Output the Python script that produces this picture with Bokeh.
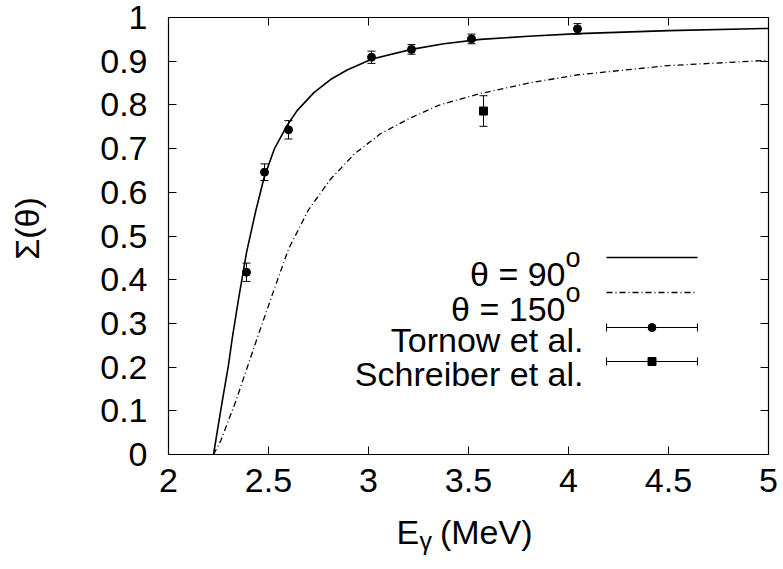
from bokeh.plotting import figure
from bokeh.models import (Label, LinearAxis, ColumnDataSource, Whisker, TeeHead,
                          FixedTicker, Range1d)
from bokeh.embed import file_html
from bokeh.resources import INLINE

# ---------------- data ----------------
# theory curve theta = 90 deg
th90_x = [2.225, 2.25, 2.27, 2.30, 2.32, 2.35, 2.39, 2.435, 2.477, 2.53, 2.593,
          2.643, 2.727, 2.81, 2.893, 3.018, 3.215, 3.377, 3.56, 3.8, 4.05, 4.5, 5.0]
th90_y = [0.0, 0.07, 0.125, 0.205, 0.27, 0.355, 0.462, 0.555, 0.632, 0.70, 0.753,
          0.787, 0.828, 0.858, 0.880, 0.905, 0.927, 0.940, 0.950, 0.957, 0.963,
          0.970, 0.975]
# theory curve theta = 150 deg
th150_x = [2.225, 2.26, 2.335, 2.45, 2.53, 2.6, 2.7, 2.81, 2.93, 3.06, 3.2, 3.35,
           3.55, 3.8, 4.05, 4.5, 5.0]
th150_y = [0.0, 0.03, 0.12, 0.275, 0.38, 0.47, 0.56, 0.63, 0.688, 0.734, 0.768,
           0.799, 0.825, 0.85, 0.869, 0.89, 0.902]
# Tornow et al.
tor_x = [2.39, 2.48, 2.60, 3.015, 3.215, 3.515, 4.045]
tor_y = [0.417, 0.646, 0.743, 0.909, 0.927, 0.951, 0.974]
tor_e = [0.021, 0.019, 0.021, 0.014, 0.011, 0.011, 0.012]
# Schreiber et al.
sch_x = [3.575]
sch_y = [0.786]
sch_e = [0.035]

x_ticks = [2, 2.5, 3, 3.5, 4, 4.5, 5]
y_ticks = [0, 0.1, 0.2, 0.3, 0.4, 0.5, 0.6, 0.7, 0.8, 0.9, 1]
legend_labels = ["\u03b8 = 90", "\u03b8 = 150", "Tornow et al.", "Schreiber et al."]
x_title = ["E", "\u03b3", "(MeV)"]
y_title = "\u03a3(\u03b8)"

FONT = "Liberation Sans"
FS = "34px"

# ---------------- layout helpers (page px -> data) ----------------
W, H = 783, 569
L, R, T, B = 168, 768, 17, 454
XMIN, XMAX = x_ticks[0], x_ticks[-1]
YMIN, YMAX = y_ticks[0], y_ticks[-1]
def dx(px):
    return XMIN + (XMAX - XMIN) * (px - L) / (R - L)
def dy(py):
    return YMIN + (YMAX - YMIN) * (B - py) / (B - T)

# the frame covers the whole canvas; the plot box is made of four axes
p = figure(width=W, height=H, min_border=0, title=None,
           x_range=Range1d(dx(0), dx(W)), y_range=Range1d(dy(H), dy(0)),
           output_backend="svg", toolbar_location=None,
           background_fill_color="white", border_fill_color="white")
p.grid.visible = False
p.outline_line_color = None

def style_axis(ax, ticks, loc, bounds, labels=True, standoff=17):
    ax.ticker = FixedTicker(ticks=ticks)
    ax.fixed_location = loc
    ax.bounds = bounds
    ax.axis_line_color = "black"
    ax.axis_line_width = 1.2
    ax.major_tick_line_color = "black"
    ax.major_tick_in = 8
    ax.major_tick_out = 0
    ax.minor_tick_line_color = None
    ax.major_label_text_font = FONT
    ax.major_label_text_font_size = FS
    ax.major_label_text_color = "black"
    ax.major_label_standoff = standoff
    if labels:
        ax.major_label_overrides = {t: ("%g" % t) for t in ticks}
    else:
        ax.major_label_overrides = {t: "" for t in ticks}
        ax.major_label_standoff = 0

style_axis(p.xaxis[0], x_ticks, YMIN, (XMIN, XMAX), standoff=14)
style_axis(p.yaxis[0], y_ticks, XMIN, (YMIN, YMAX), standoff=21)
top = LinearAxis()
right = LinearAxis()
style_axis(top, x_ticks, YMAX, (XMIN, XMAX), labels=False)
style_axis(right, y_ticks, XMAX, (YMIN, YMAX), labels=False)
p.add_layout(top, "above")
p.add_layout(right, "right")

# ---------------- curves ----------------
p.line(th90_x, th90_y, line_color="black", line_width=1.6)
p.line(th150_x, th150_y, line_color="black", line_width=1.3, line_dash="6 3 1 3")

# ---------------- data points ----------------
tor = ColumnDataSource(dict(x=tor_x, y=tor_y,
                            lo=[a - b for a, b in zip(tor_y, tor_e)],
                            hi=[a + b for a, b in zip(tor_y, tor_e)]))
sch = ColumnDataSource(dict(x=sch_x, y=sch_y,
                            lo=[a - b for a, b in zip(sch_y, sch_e)],
                            hi=[a + b for a, b in zip(sch_y, sch_e)]))
for src in (tor, sch):
    w = Whisker(source=src, base="x", lower="lo", upper="hi", dimension="height",
                line_color="black", line_width=1,
                lower_head=TeeHead(size=8, line_color="black", line_width=1),
                upper_head=TeeHead(size=8, line_color="black", line_width=1))
    p.add_layout(w)
p.scatter("x", "y", source=tor, marker="circle", size=8, fill_color="black",
          line_color="black")
p.scatter("x", "y", source=sch, marker="square", size=8, fill_color="black",
          line_color="black")

# ---------------- legend (custom: text right, sample left) ----------------
text_right = 583
sup_left = 565
rows = [257, 292, 327, 361]
s0, s1 = 606, 697
for i, lab in enumerate(legend_labels):
    yrow = rows[i]
    if i < 2:
        p.add_layout(Label(x=dx(sup_left), y=dy(yrow + 16), text=lab,
                           text_font=FONT, text_font_size=FS, text_align="right",
                           text_baseline="alphabetic", text_color="black"))
        p.add_layout(Label(x=dx(sup_left), y=dy(yrow), text="o",
                           text_font=FONT, text_font_size="27px", text_align="left",
                           text_baseline="alphabetic", text_color="black"))
    else:
        p.add_layout(Label(x=dx(text_right), y=dy(yrow + 12), text=lab,
                           text_font=FONT, text_font_size=FS, text_align="right",
                           text_baseline="alphabetic", text_color="black"))

p.line([dx(s0), dx(s1)], [dy(rows[0])] * 2, line_color="black", line_width=1.6)
p.line([dx(s0), dx(s1)], [dy(rows[1])] * 2, line_color="black", line_width=1.3,
       line_dash="6 3 1 3")
for i, mk in ((2, "circle"), (3, "square")):
    yy = dy(rows[i])
    p.segment(x0=[dx(s0), dx(s0), dx(s1)], y0=[yy, dy(rows[i] - 4), dy(rows[i] - 4)],
              x1=[dx(s1), dx(s0), dx(s1)], y1=[yy, dy(rows[i] + 4), dy(rows[i] + 4)],
              line_color="black", line_width=1)
    p.scatter([dx((s0 + s1) / 2)], [yy], marker=mk, size=8, fill_color="black",
              line_color="black")

# ---------------- axis titles ----------------
p.add_layout(Label(x=dx(396), y=dy(531), text=x_title[0], text_font=FONT,
                   text_font_size=FS, text_align="left", text_baseline="alphabetic",
                   text_color="black"))
p.add_layout(Label(x=dx(419), y=dy(540), text=x_title[1], text_font=FONT,
                   text_font_size="25px", text_align="left",
                   text_baseline="alphabetic", text_color="black"))
p.add_layout(Label(x=dx(532), y=dy(531), text=x_title[2], text_font=FONT,
                   text_font_size=FS, text_align="right", text_baseline="alphabetic",
                   text_color="black"))
p.add_layout(Label(x=dx(26), y=dy(228), text=y_title, text_font=FONT,
                   text_font_size=FS, text_align="center", text_baseline="middle",
                   angle=1.5707963, text_color="black"))

open("out.html", "w").write(file_html(p, INLINE))
